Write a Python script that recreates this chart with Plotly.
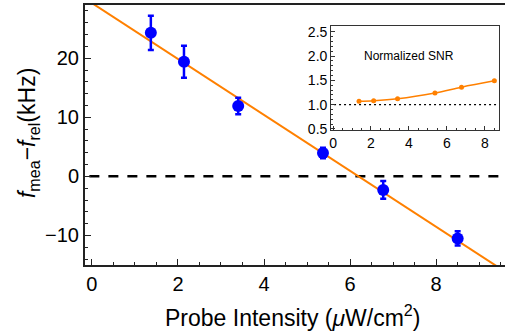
import plotly.graph_objects as go

# Main data
intensity = [1.37, 2.14, 3.40, 5.37, 6.77, 8.50]
freq_diff = [24.3, 19.4, 11.9, 3.95, -2.3, -10.5]
freq_err = [2.9, 2.7, 1.4, 0.9, 1.5, 1.2]

# Linear fit line endpoints
fit_x = [-0.5, 10.0]
fit_y = [31.7, -18.0]

# Inset data
snr = [1.07, 1.08, 1.12, 1.24, 1.36, 1.49]

x_ticks = [0, 2, 4, 6, 8]
y_ticks = [-10, 0, 10, 20]
inset_y_ticks = [0.5, 1.0, 1.5, 2.0, 2.5]

ORANGE = "#FF8000"
BLUE = "#0000FF"
FONT = "Liberation Sans, Arial, sans-serif"

fig = go.Figure()

fig.add_trace(go.Scatter(x=[-0.5, 10], y=[0, 0], mode="lines",
                         line=dict(color="black", width=2.5, dash="10px,9px"),
                         showlegend=False, hoverinfo="skip"))
fig.add_trace(go.Scatter(x=fit_x, y=fit_y, mode="lines",
                         line=dict(color=ORANGE, width=2), showlegend=False))
fig.add_trace(go.Scatter(x=intensity, y=freq_diff, mode="markers",
                         marker=dict(color=BLUE, size=12),
                         error_y=dict(type="data", array=freq_err, color=BLUE,
                                      thickness=2.5, width=3),
                         showlegend=False))

# Inset
fig.add_trace(go.Scatter(x=[-1, 10], y=[1, 1], mode="lines", xaxis="x2", yaxis="y2",
                         line=dict(color="black", width=1.3, dash="2px,3px"),
                         showlegend=False))
fig.add_trace(go.Scatter(x=intensity, y=snr, mode="lines+markers", xaxis="x2", yaxis="y2",
                         line=dict(color=ORANGE, width=1.5, shape="spline"),
                         marker=dict(color=ORANGE, size=5),
                         showlegend=False))

axis_common = dict(showline=True, linecolor="#222", linewidth=2, mirror=True,
                   ticks="inside", tickcolor="#222", showgrid=False, zeroline=False,
                   automargin=False,
                   tickfont=dict(family=FONT, size=20, color="black"))

fig.update_layout(
    width=505, height=332,
    margin=dict(l=85, r=0, t=5, b=67),
    plot_bgcolor="white", paper_bgcolor="white",
    font=dict(family=FONT, color="black"),
    xaxis=dict(**axis_common, range=[-0.16, 9.6], tickvals=x_ticks, ticklen=6,
               minor=dict(dtick=0.5, ticks="inside", ticklen=3, tickcolor="#222")),
    yaxis=dict(**axis_common, range=[-15, 29], tickvals=y_ticks, ticklen=6,
               minor=dict(dtick=2, ticks="inside", ticklen=3, tickcolor="#222")),
    xaxis2=dict(domain=[0.586, 0.986], anchor="y2", range=[-0.1, 8.75],
                showline=True, linecolor="#333", linewidth=1, mirror=True, automargin=False,
                ticks="inside", ticklen=4, tickcolor="#333", showgrid=False, zeroline=False,
                tickvals=x_ticks, tickfont=dict(family=FONT, size=14, color="black"),
                minor=dict(dtick=0.5, ticks="inside", ticklen=2, tickcolor="#333")),
    yaxis2=dict(domain=[0.518, 0.919], anchor="x2", range=[0.47, 2.62],
                showline=True, linecolor="#333", linewidth=1, mirror=True, automargin=False,
                ticks="inside", ticklen=4, tickcolor="#333", showgrid=False, zeroline=False,
                tickvals=inset_y_ticks, ticktext=["0.5", "1.0", "1.5", "2.0", "2.5"],
                tickfont=dict(family=FONT, size=14, color="black"),
                minor=dict(dtick=0.1, ticks="inside", ticklen=2, tickcolor="#333")),
    annotations=[
        dict(text="Normalized SNR", xref="x2", yref="y2", x=4.0, y=2.0,
             showarrow=False, font=dict(family=FONT, size=12, color="black")),
        dict(text="Probe Intensity (<i>μ</i>W/cm<sup>2</sup>)", xref="paper", yref="paper",
             x=0.495, y=-0.198, xanchor="center", yanchor="middle", showarrow=False,
             font=dict(family=FONT, size=23, color="black")),
        dict(text="<i>f</i><sub>mea</sub>−<i>f</i><sub>rel</sub>(kHz)", xref="paper", yref="paper",
             x=-0.136, y=0.507, xanchor="center", yanchor="middle", textangle=-90,
             showarrow=False, font=dict(family=FONT, size=23, color="black")),
    ],
)

fig.write_html("out.html", config={"displayModeBar": False},
               post_script="document.body.style.margin='0';")
